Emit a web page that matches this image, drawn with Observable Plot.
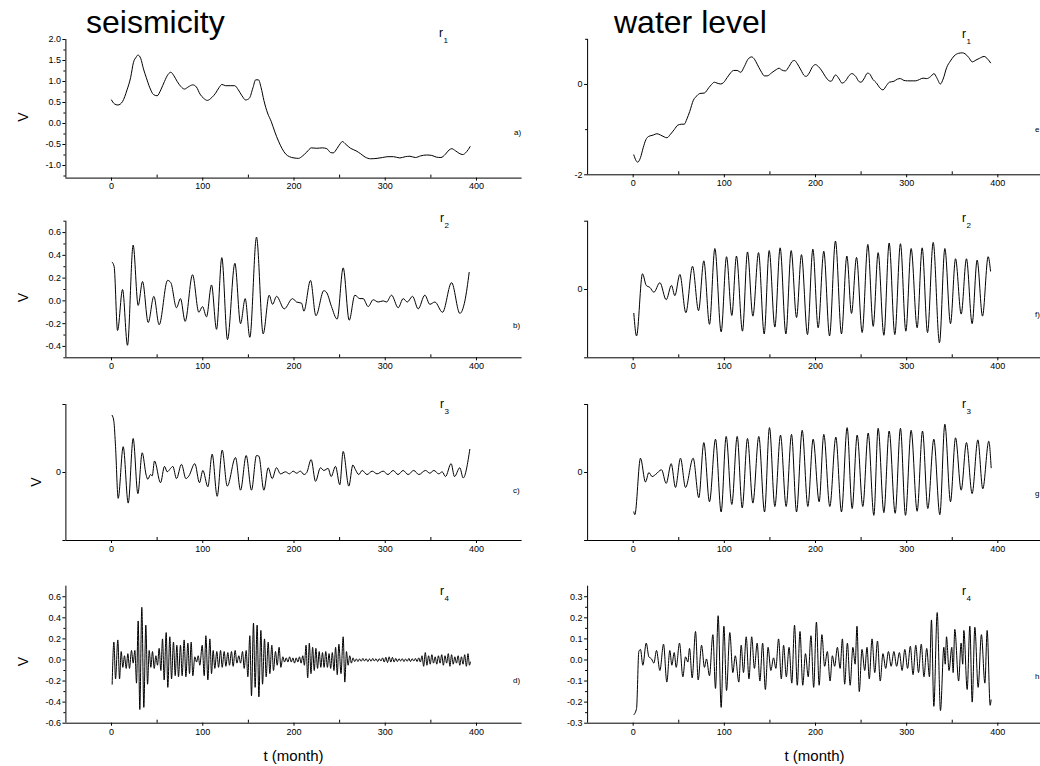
<!DOCTYPE html>
<html><head><meta charset="utf-8">
<script src="https://cdn.jsdelivr.net/npm/d3@7"></script>
<script src="https://cdn.jsdelivr.net/npm/@observablehq/plot@0.6"></script>
<style>
html,body{margin:0;padding:0;background:#fff;}
#chart{position:relative;width:1040px;height:766px;overflow:hidden;background:#fff;font-family:"Liberation Sans",Arial,Helvetica,sans-serif;}
#chart svg{position:absolute;max-width:none;}
</style></head><body><div id="chart"></div>
<script>
// ---------- axis ticks ----------
const xDomain = [-50, 450];
const xMajorTicks = [0, 100, 200, 300, 400];
const xMinorTicks = [50, 150, 250, 350];
const aMajor = [-1.0, -0.5, 0.0, 0.5, 1.0, 1.5, 2.0];
const aMinor = [-1.25, -0.75, -0.25, 0.25, 0.75, 1.25, 1.75];
const eMajor = [-2, 0];
const eMinor = [-1, 1];
const bMajor = [-0.4, -0.2, 0.0, 0.2, 0.4, 0.6];
const bMinor = [-0.5, -0.3, -0.1, 0.1, 0.3, 0.5, 0.7];
const symMajor = [-1, 0, 1];
const dMajor = [-0.6, -0.4, -0.2, 0.0, 0.2, 0.4, 0.6];
const dMinor = [-0.5, -0.3, -0.1, 0.1, 0.3, 0.5];
const hMajor = [-0.3, -0.2, -0.1, 0.0, 0.1, 0.2, 0.3];
const hMinor = [-0.25, -0.15, -0.05, 0.05, 0.15, 0.25];

// ---------- texts ----------
const titles = ["seismicity", "water level"];
const panelLetters = ["a)", "b)", "c)", "d)", "e", "f)", "g", "h"];
const rIndex = ["1", "2", "3", "4"];
const yLabel = "V";
const xLabel = "t (month)";

// ---------- series [t (month), value] ----------
const seisR1 = [[0,0.56],[3,0.47],[7,0.44],[12,0.52],[17,0.8],[21,1.1],[24,1.45],[27,1.58],[29,1.63],[32,1.55],[35,1.3],[38,1.1],[42,0.85],[46,0.69],[50,0.66],[54,0.8],[58,1.0],[62,1.17],[65,1.22],[68,1.15],[72,1.0],[76,0.88],[80,0.82],[84,0.87],[89,0.92],[93,0.87],[97,0.7],[101,0.6],[105,0.55],[110,0.62],[114,0.72],[118,0.86],[121,0.93],[125,0.9],[130,0.9],[135,0.9],[139,0.8],[143,0.66],[147,0.56],[151,0.6],[155,0.85],[158,1.04],[161,1.04],[164,0.85],[167,0.55],[171,0.25],[175,0.05],[179,-0.2],[183,-0.42],[187,-0.6],[191,-0.73],[195,-0.79],[200,-0.82],[205,-0.83],[209,-0.78],[214,-0.68],[219,-0.58],[225,-0.59],[231,-0.58],[236,-0.6],[240,-0.69],[243,-0.7],[247,-0.6],[251,-0.47],[253,-0.43],[257,-0.5],[262,-0.59],[268,-0.65],[273,-0.72],[278,-0.8],[284,-0.84],[291,-0.83],[297,-0.81],[303,-0.79],[309,-0.79],[316,-0.82],[322,-0.79],[327,-0.78],[333,-0.81],[339,-0.77],[345,-0.75],[351,-0.76],[356,-0.8],[361,-0.81],[366,-0.73],[370,-0.63],[373,-0.6],[377,-0.65],[381,-0.71],[385,-0.74],[388,-0.7],[391,-0.62],[393,-0.55]];

const seisR2 = [[0.7,0.34],[2.9,0.30],[6.6,-0.26],[12.1,0.10],[17.5,-0.39],[23.7,0.49],[29.2,-0.04],[34,0.17],[40.2,-0.19],[46.4,0.04],[52.2,-0.21],[61.4,0.18],[65,0.16],[71.2,-0.06],[75.6,0.02],[80.7,-0.18],[88.8,0.23],[95.7,-0.10],[99.7,-0.05],[104.1,-0.14],[109.6,0.14],[115.1,-0.25],[120.9,0.38],[127.1,-0.34],[135.2,0.33],[141.4,-0.20],[146.5,0.02],[151.6,-0.32],[158.9,0.56],[166.2,-0.29],[172.8,0.05],[176.5,-0.03],[180.9,0.04],[189.3,-0.07],[198.4,0.02],[202.8,-0.01],[208.3,-0.02],[210.8,-0.09],[218.1,0.18],[224,-0.13],[232.7,0.09],[236,0.07],[241.1,-0.05],[247.3,-0.16],[253.9,0.29],[260.5,-0.17],[266.7,0.05],[272.2,0.02],[275.8,0.02],[281.3,-0.05],[286.8,0.01],[292.3,-0.01],[297.8,0.00],[301.4,-0.01],[306.9,0.05],[314.2,-0.06],[319.7,0.02],[324.1,-0.01],[329.9,0.04],[336.1,-0.07],[343.4,0.05],[348.9,-0.03],[354.4,-0.01],[362.8,-0.10],[372.7,0.16],[381.8,-0.11],[387.3,0.0],[392,0.25]];

const seisR3 = [[0.7,0.84],[2.6,0.75],[4.4,0.38],[7.3,-0.38],[12.8,0.38],[18.3,-0.45],[23.7,0.50],[28.9,-0.31],[33.6,0.29],[38,-0.04],[39.8,-0.10],[42.7,-0.03],[44.6,-0.05],[47.1,0.17],[53.7,-0.15],[58.1,0.09],[61,0.01],[64.7,0.06],[67.2,0.09],[71.2,-0.09],[76.7,0.12],[81.5,-0.09],[84.8,-0.05],[91.3,0.13],[96.4,-0.15],[100.1,0.03],[105.6,-0.21],[110.3,0.27],[115.8,-0.35],[121.3,0.33],[126.8,-0.20],[135.9,0.22],[141.4,-0.26],[147.6,0.25],[153.4,-0.26],[158.9,0.25],[161.5,0.24],[167,-0.26],[171.7,0.07],[176.1,-0.09],[180.8,0.07],[185.2,-0.02],[190.7,0.01],[195,-0.02],[199,0.02],[203,-0.01],[207,0.02],[211,-0.03],[214,0.0],[218.8,0.19],[223.6,-0.13],[229,0.07],[232.7,0.03],[237.4,0.06],[240.7,-0.06],[245.5,0.09],[250.2,-0.18],[253.9,0.31],[260.1,-0.20],[264.5,0.11],[267.4,0.04],[271,-0.03],[274.7,0.03],[280,-0.03],[285.7,0.02],[291,-0.02],[297.7,0.02],[303,-0.03],[308.7,0.03],[314,-0.03],[319.6,0.03],[325,-0.03],[331.3,0.03],[336.8,-0.03],[344.1,0.03],[348.9,-0.01],[353.3,0.03],[358.7,-0.02],[362.4,0.01],[366,-0.06],[372.2,0.13],[375.9,-0.06],[381.7,0.07],[385.4,-0.08],[392.7,0.34]];

const seisR4 = [[0.7,-0.23],[2.6,0.17],[4.4,-0.18],[6.9,0.19],[8.8,-0.18],[10.6,0.08],[12.4,-0.07],[14.2,0.04],[16.1,-0.08],[17.9,0.06],[19.7,-0.08],[21.9,0.09],[23.7,-0.03],[25.6,0.09],[27.4,-0.22],[29.2,0.37],[31,-0.47],[33.2,0.50],[35.4,-0.45],[37.6,0.33],[39.5,-0.23],[41.3,0.09],[43.1,-0.07],[44.9,0.08],[46.8,-0.08],[48.6,0.04],[50.4,-0.05],[52.2,0.11],[54.1,-0.10],[55.9,0.20],[57.7,-0.19],[59.9,0.26],[61.7,-0.26],[63.9,0.22],[65.8,-0.18],[67.9,0.17],[69.8,-0.15],[71.6,0.14],[73.4,-0.16],[75.6,0.14],[77.4,-0.15],[79.6,0.19],[81.5,-0.16],[83.7,0.16],[85.5,-0.13],[87.3,0.17],[89.1,-0.15],[91.3,0.03],[93.2,-0.02],[95,0.04],[96.8,-0.05],[99.4,0.14],[101.6,-0.15],[103.4,0.23],[105.6,-0.19],[107.8,0.20],[109.6,-0.13],[111.4,0.09],[113.2,-0.08],[115.4,0.08],[117.3,-0.07],[119.5,0.09],[121.3,-0.07],[123.5,0.08],[125.3,-0.06],[127.5,0.07],[129.3,-0.05],[131.5,0.08],[133.3,-0.06],[135.5,0.09],[137.4,-0.03],[139.5,0.04],[141.4,-0.03],[143.6,0.08],[145.4,-0.08],[147.6,0.09],[149.4,-0.16],[151.6,0.23],[153.4,-0.34],[155.6,0.35],[157.4,-0.26],[159.6,0.33],[161.5,-0.35],[163.7,0.28],[165.5,-0.23],[167.7,0.20],[169.5,-0.16],[171.7,0.17],[173.5,-0.13],[175.7,0.14],[177.5,-0.10],[179.7,0.08],[181.6,-0.05],[183.7,0.12],[185.6,-0.07],[187.8,0.03],[189.6,-0.02],[191.5,0.02],[193.3,-0.02],[195.2,0.03],[197,-0.02],[198.8,0.02],[200.6,-0.03],[202.4,0.02],[204.2,-0.02],[206,0.03],[207.8,-0.03],[209.6,0.04],[211.4,-0.05],[213.2,0.14],[215.0,-0.17],[216.8,0.16],[218.6,-0.13],[220.4,0.12],[222.2,-0.10],[224.0,0.11],[225.8,-0.08],[227.6,0.08],[229.4,-0.07],[231.2,0.07],[233.0,-0.07],[234.8,0.08],[236.6,-0.07],[238.4,0.06],[240.2,-0.08],[242.0,0.07],[243.8,-0.10],[245.6,0.12],[247.4,-0.14],[249.2,0.15],[251.5,-0.13],[253.9,0.22],[255.7,-0.21],[257.5,0.08],[259.3,-0.05],[261.1,0.04],[262.9,-0.03],[264.7,0.02],[266.5,-0.015],[268.3,0.01],[270.1,-0.015],[271.9,0.01],[273.7,-0.012],[275.5,0.015],[277.3,-0.01],[279.1,0.012],[280.9,-0.015],[282.7,0.01],[284.5,-0.012],[286.3,0.015],[288.1,-0.01],[289.9,0.012],[291.7,-0.015],[293.5,0.012],[295.3,-0.01],[297.1,0.02],[298.9,-0.02],[300.7,0.025],[302.5,-0.025],[304.3,0.03],[306.1,-0.02],[307.9,0.025],[309.7,-0.02],[311.5,0.015],[313.3,-0.015],[315.1,0.012],[316.9,-0.01],[318.7,0.012],[320.5,-0.015],[322.3,0.01],[324.1,-0.012],[325.9,0.015],[327.7,-0.015],[329.5,0.012],[331.3,-0.01],[333.1,0.015],[334.9,-0.015],[336.7,0.02],[338.5,-0.02],[340.3,0.04],[342.1,-0.06],[343.9,0.07],[345.7,-0.05],[347.5,0.04],[349.3,-0.04],[351.1,0.05],[352.9,-0.03],[354.7,0.03],[356.5,-0.04],[358.3,0.04],[360.1,-0.03],[361.9,0.05],[363.7,-0.05],[365.5,0.04],[367.3,-0.03],[369.1,0.06],[370.9,-0.06],[372.7,0.05],[374.5,-0.04],[376.3,0.03],[378.1,-0.03],[379.9,0.04],[381.7,-0.05],[383.5,0.03],[385.3,-0.04],[387.1,0.05],[388.9,-0.06],[390.7,0.06],[392.3,-0.05],[393.3,-0.02]];

const waterR1 = [[0.7,-1.56],[3,-1.68],[5,-1.72],[8,-1.62],[11,-1.4],[14,-1.22],[17,-1.15],[22,-1.12],[26,-1.09],[30,-1.12],[34,-1.16],[37,-1.18],[41,-1.1],[45,-1.0],[49,-0.9],[53,-0.88],[56,-0.88],[59,-0.76],[62,-0.6],[66,-0.35],[70,-0.25],[73,-0.2],[78,-0.19],[83,-0.07],[86,0.0],[89,0.05],[92,0.03],[96,0.01],[99,0.04],[103,0.15],[107,0.26],[110,0.31],[114,0.31],[118,0.27],[122,0.4],[126,0.56],[130,0.61],[133,0.56],[136,0.45],[140,0.3],[144,0.19],[147,0.19],[152,0.26],[157,0.33],[160,0.36],[163,0.32],[167,0.3],[171,0.4],[175,0.52],[177,0.53],[180,0.46],[184,0.32],[188,0.19],[190,0.18],[193,0.25],[197,0.4],[200,0.44],[203,0.4],[207,0.3],[211,0.17],[215,0.08],[217,0.07],[222,0.21],[226,0.12],[229,0.03],[233,0.08],[237,0.2],[240,0.24],[244,0.18],[248,0.06],[250,0.05],[253,0.12],[257,0.25],[259,0.24],[263,0.11],[267,0.03],[270,-0.06],[274,-0.12],[278,-0.02],[281,0.05],[286,0.07],[290,0.12],[293,0.13],[297,0.09],[301,0.08],[306,0.08],[310,0.08],[314,0.11],[318,0.14],[322,0.13],[326,0.17],[330,0.24],[333,0.15],[337,0.01],[340,0.12],[344,0.38],[348,0.52],[352,0.63],[357,0.69],[361,0.7],[364,0.68],[368,0.6],[372,0.5],[376,0.54],[380,0.58],[385,0.62],[389,0.56],[392,0.48]];

const waterR2 = [[0.7,-0.35],[3.7,-0.68],[10.2,0.23],[14.3,0.06],[18.3,0.03],[22.7,-0.04],[29.3,0.10],[36.2,-0.15],[42,0.06],[45.7,-0.09],[51.2,0.22],[57.8,-0.34],[65.1,0.34],[71.7,-0.31],[77.5,0.42],[83.7,-0.51],[89.6,0.60],[96.5,-0.62],[102.4,0.48],[108.2,-0.38],[113.3,0.49],[119.9,-0.61],[125.4,0.55],[131.3,-0.39],[137.5,0.54],[143.7,-0.65],[149.2,0.57],[155.4,-0.55],[161.2,0.61],[167.5,-0.65],[173.3,0.57],[179.2,-0.41],[184.6,0.51],[191.2,-0.66],[197.1,0.59],[202.9,-0.56],[209.1,0.56],[215.4,-0.68],[221.9,0.71],[228.5,-0.65],[234.4,0.49],[239.5,-0.35],[245,0.47],[251.2,-0.63],[257.4,0.66],[263.3,-0.54],[268.7,0.54],[275,-0.67],[280.8,0.68],[287,-0.66],[293.2,0.67],[299.1,-0.61],[304.9,0.60],[311.5,-0.56],[317,0.61],[322.9,-0.63],[329.1,0.69],[336,-0.78],[341.9,0.60],[348.1,-0.50],[353.6,0.45],[359.8,-0.36],[365.6,0.45],[371.8,-0.50],[377.3,0.43],[383.2,-0.39],[389.4,0.48],[392,0.27]];

const waterR3 = [[0.7,-0.58],[1.8,-0.62],[8,0.21],[13.5,-0.14],[17.2,0.0],[20.8,-0.06],[24.5,-0.03],[31.1,0.04],[36.2,-0.16],[41.7,0.13],[46.4,-0.22],[51.9,0.21],[57.4,-0.22],[65.8,0.21],[72,-0.37],[77.5,0.44],[83.7,-0.43],[90.3,0.49],[96.5,-0.58],[102,0.53],[108.2,-0.47],[114.1,0.53],[119.6,-0.52],[125.4,0.50],[131.3,-0.45],[137.8,0.53],[144.1,-0.58],[149.5,0.66],[155.4,-0.50],[161.6,0.55],[167.8,-0.50],[173.7,0.56],[179.2,-0.58],[185.4,0.62],[191.6,-0.50],[197.4,0.49],[204,-0.43],[209.1,0.56],[215.7,-0.50],[222.3,0.52],[228.5,-0.58],[234.7,0.66],[240.2,-0.53],[245.7,0.55],[251.9,-0.50],[257.8,0.58],[264,-0.63],[268.7,0.65],[275,-0.59],[280.8,0.61],[287.4,-0.60],[293.2,0.65],[298.7,-0.63],[304.9,0.62],[311.5,-0.57],[317.4,0.61],[323.2,-0.53],[329.8,0.49],[336.4,-0.62],[341.9,0.71],[348.1,-0.43],[353.6,0.51],[359.8,-0.26],[365.6,0.44],[371.8,-0.31],[378.1,0.48],[383.5,-0.24],[390.1,0.46],[392.7,0.07]];

const waterR4 = [[0.7,-0.26],[3.7,-0.23],[6.2,0.04],[8,0.05],[10.6,-0.025],[14.3,0.08],[17.2,0.015],[20.1,0.005],[22.7,-0.015],[25.6,0.045],[29.3,-0.05],[33.3,0.075],[36.9,-0.105],[40.2,0.045],[42.4,-0.025],[45,0.035],[47.2,-0.035],[50.8,0.08],[54.5,-0.08],[57.4,0.015],[60,-0.01],[61.8,0.055],[64.7,-0.085],[68.4,0.135],[71.3,-0.095],[75,0.07],[78.2,-0.035],[80.4,0.005],[83.7,-0.075],[87.4,0.12],[90.3,-0.135],[93.2,0.21],[96.5,-0.225],[99.5,0.16],[102.4,-0.145],[106,0.13],[109.3,-0.06],[112,0.02],[115.9,-0.105],[118.5,0.07],[121,-0.06],[124,0.11],[127,-0.09],[130,0.11],[133,-0.04],[136,0.08],[139,-0.10],[142,0.08],[145,-0.14],[148,0.06],[151,-0.05],[154,0.01],[156.5,-0.04],[159.5,0.10],[162.5,-0.09],[165,0.07],[168,-0.08],[171,0.06],[174,-0.11],[177,0.165],[180,-0.12],[183,0.135],[186,-0.12],[189,0.03],[192,-0.08],[195,0.115],[198,-0.13],[201,0.18],[204,-0.12],[207,0.12],[210,-0.03],[213,0.04],[216,-0.10],[218.5,0.02],[221,-0.03],[224,0.06],[227,-0.04],[229.5,0.10],[232,-0.115],[235,0.08],[238,-0.12],[241,0.06],[243.5,-0.02],[245.5,0.16],[248,-0.15],[251,0.05],[254,-0.05],[256.5,0.06],[259,-0.09],[262,0.10],[265,-0.06],[268,0.09],[271,-0.10],[274,0.03],[277,-0.04],[280,0.04],[283,-0.03],[286,0.04],[289,-0.03],[292,0.035],[295,-0.05],[298,0.05],[301,-0.04],[304,0.065],[307,-0.07],[310,0.07],[313,-0.06],[316,0.075],[319,-0.08],[322,0.055],[325,-0.08],[327.2,0.19],[329.8,-0.22],[333.5,0.225],[337.1,-0.24],[340.8,0.06],[342.3,-0.02],[343.7,0.11],[346.5,-0.05],[349.5,0.06],[351,-0.06],[352.8,0.145],[357,-0.10],[359.7,0.08],[361.5,-0.02],[362.7,0.14],[366.4,-0.14],[369.3,0.16],[371.9,-0.20],[374.8,0.155],[378.4,-0.13],[382,0.12],[385.8,-0.11],[388.3,0.14],[391.6,-0.215],[392.6,-0.19]];

// ---------- layout ----------
const FONT = "'Liberation Sans', Arial, Helvetica, sans-serif";
const rows = [{top: 0, h: 195}, {top: 195, h: 190}, {top: 385, h: 185}, {top: 570, h: 196}];
const sides = {L: {left: 0, width: 530, x0: 65.4, x1: 521.6}, R: {left: 525, width: 525, x0: 587.1, x1: 1042.9}};
const fixed1 = d => d.toFixed(1);
const zeroOnly = d => (d === 0 ? "0" : "");
const plain = d => String(d);

const panels = [
  {data: seisR1, side: "L", row: 0, top: 39, bottom: 177.6, yDomain: [-1.3, 2.0], yMajor: aMajor, yMinor: aMinor, fmt: fixed1},
  {data: seisR2, side: "L", row: 1, top: 220.7, bottom: 357.3, yDomain: [-0.5, 0.7], yMajor: bMajor, yMinor: bMinor, fmt: fixed1},
  {data: seisR3, side: "L", row: 2, top: 404, bottom: 540, yDomain: [-1, 1], yMajor: symMajor, yMinor: null, fmt: zeroOnly},
  {data: seisR4, side: "L", row: 3, top: 585.7, bottom: 722.7, yDomain: [-0.6, 0.7], yMajor: dMajor, yMinor: dMinor, fmt: fixed1},
  {data: waterR1, side: "R", row: 0, top: 38.8, bottom: 174.3, yDomain: [-2, 1], yMajor: eMajor, yMinor: eMinor, fmt: plain},
  {data: waterR2, side: "R", row: 1, top: 220.7, bottom: 357.3, yDomain: [-1, 1], yMajor: symMajor, yMinor: null, fmt: zeroOnly},
  {data: waterR3, side: "R", row: 2, top: 404, bottom: 540, yDomain: [-1, 1], yMajor: symMajor, yMinor: null, fmt: zeroOnly},
  {data: waterR4, side: "R", row: 3, top: 585.7, bottom: 722.7, yDomain: [-0.3, 0.35], yMajor: hMajor, yMinor: hMinor, fmt: fixed1}
];

const chart = document.getElementById("chart");

for (const p of panels) {
  const s = sides[p.side], r = rows[p.row];
  const marks = [
    Plot.ruleX([xDomain[0]], {y1: p.yDomain[0], y2: p.yDomain[1], stroke: "black", strokeWidth: 1}),
    Plot.ruleY([p.yDomain[0]], {x1: xDomain[0], x2: xDomain[1], stroke: "black", strokeWidth: 1}),
    Plot.axisX(xMajorTicks, {anchor: "bottom", tickSize: 3, tickPadding: 2, tickFormat: plain, label: null}),
    Plot.axisX(xMinorTicks, {anchor: "bottom", tickSize: 3, dy: -3, tickFormat: () => "", label: null}),
    Plot.axisY(p.yMajor, {anchor: "left", tickSize: 3, tickPadding: 2, tickFormat: p.fmt, label: null})
  ];
  if (p.yMinor) marks.push(Plot.axisY(p.yMinor, {anchor: "left", tickSize: 2, tickFormat: () => "", label: null}));
  marks.push(Plot.line(p.data, {curve: "monotone-x", stroke: "black", strokeWidth: 1}));
  const svg = Plot.plot({
    width: s.width, height: r.h,
    marginLeft: s.x0 - s.left, marginRight: s.left + s.width - s.x1,
    marginTop: p.top - r.top, marginBottom: r.top + r.h - p.bottom,
    x: {domain: xDomain}, y: {domain: p.yDomain},
    style: {background: "transparent", fontFamily: FONT, fontSize: "9px", color: "black", overflow: "visible"},
    marks
  });
  svg.style.position = "absolute";
  svg.style.left = s.left + "px";
  svg.style.top = r.top + "px";
  chart.appendChild(svg);
}

// ---------- annotations ----------
const ov = d3.create("svg").attr("width", 1040).attr("height", 766)
  .style("position", "absolute").style("left", "0px").style("top", "0px")
  .style("font-family", FONT).attr("fill", "black");
ov.append("text").attr("x", 86).attr("y", 33).attr("font-size", 32).text(titles[0]);
ov.append("text").attr("x", 614).attr("y", 33).attr("font-size", 32).text(titles[1]);

const vPos = [[23, 117], [23.5, 297.5], [36, 482], [23.5, 661.5]];
for (const [x, y] of vPos) {
  ov.append("text").attr("transform", `translate(${x},${y}) rotate(-90)`)
    .attr("text-anchor", "middle").attr("dy", "0.35em").attr("font-size", 14).text(yLabel);
}
const rPos = [[439, 37], [440, 222], [440, 408], [440, 595], [962, 38], [962, 222], [962, 408], [962, 595]];
rPos.forEach(([x, y], i) => {
  ov.append("text").attr("x", x).attr("y", y).attr("font-size", 12).text("r");
  ov.append("text").attr("x", x + 4.5).attr("y", y + 6).attr("font-size", 8).text(rIndex[i % 4]);
});
const letterPos = [[514, 135], [513, 328], [513, 493], [513, 683], [1035, 132], [1035, 317], [1035, 496], [1035, 679]];
letterPos.forEach(([x, y], i) => {
  ov.append("text").attr("x", x).attr("y", y).attr("font-size", 8).text(panelLetters[i]);
});
ov.append("text").attr("x", 293.5).attr("y", 761).attr("text-anchor", "middle").attr("font-size", 15).text(xLabel);
ov.append("text").attr("x", 814.5).attr("y", 761).attr("text-anchor", "middle").attr("font-size", 15).text(xLabel);
chart.appendChild(ov.node());
</script></body></html>
